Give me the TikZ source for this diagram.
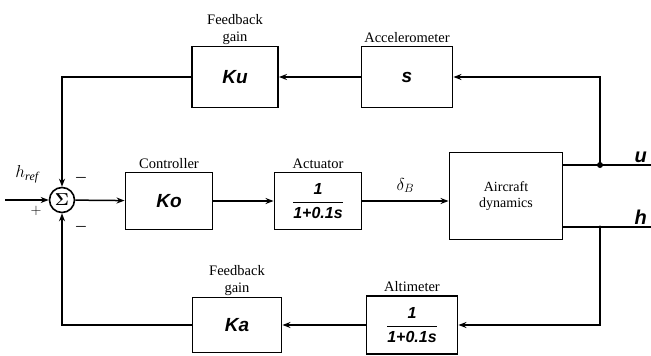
\documentclass[tikz,border=0pt]{standalone}
\usepackage{amsmath}
\usepackage{fontspec}
\setmainfont{Liberation Serif}
\newfontfamily\blkfont{Liberation Sans}
\usetikzlibrary{arrows.meta,positioning}

\begin{document}
\begin{tikzpicture}[
  x=1pt,y=-1pt,>={Stealth[length=8pt,width=6pt]},
  blk/.style={draw,line width=1.9pt,minimum width=87pt,minimum height=57pt,inner sep=2pt,
    font=\blkfont\bfseries\itshape\fontsize{19}{21}\selectfont},
  tf/.style={blk,font=\blkfont\bfseries\itshape\fontsize{16}{18}\selectfont},
  lbl/.style={font=\fontsize{14.5}{17}\selectfont,align=center,inner sep=1pt},
  sgn/.style={font=\fontsize{15}{15}\selectfont,inner sep=0pt},
  outl/.style={font=\blkfont\bfseries\itshape\fontsize{20}{20}\selectfont,inner sep=1pt},
  ar/.style={->,line width=1.5pt},
  wire/.style={line width=1.5pt}
]
\useasboundingbox (0,0) rectangle (651,356);

% ---- forward path ----
\node[circle,draw,line width=1.6pt,minimum size=25pt,inner sep=0pt,font=\fontsize{16}{16}\selectfont] (sum) at (62,200) {$\boldsymbol{\Sigma}$};
\node[blk] (ctrl) at (169,201) {Ko};
\node[tf] (act) at (318,201) {$\dfrac{\text{1}}{\text{1+0.1s}}$};
\node[draw,line width=1.9pt,minimum width=113pt,minimum height=87pt,lbl,font=\fontsize{14}{16}\selectfont] (plant) at (506,196) {Aircraft\\dynamics};

% ---- feedback blocks ----
\node[blk,minimum width=91pt,minimum height=61pt] (acc) at (407,77) {s};
\node[blk,minimum width=86pt,minimum height=61pt] (kfu) at (235,77) {Ku};
\node[tf,minimum width=91pt,minimum height=58pt] (alt) at (412,325) {$\dfrac{\text{1}}{\text{1+0.1s}}$};
\node[blk,minimum width=89pt,minimum height=55pt] (kfa) at (237,325) {Ka};

% labels
\node[lbl,above=2pt of ctrl] (ctrllbl) {Controller};
\node[lbl,above=2pt of act] (actlbl) {Actuator};
\node[lbl,above=2pt of acc] (acclbl) {Accelerometer};
\node[lbl,above=0pt of kfu] (kfulbl) {Feedback\\gain};
\node[lbl,above=0pt of kfa] (kfalbl) {Feedback\\gain};
\node[lbl,above=2pt of alt] (altlbl) {Altimeter};

% outputs
\coordinate (inp) at (5,200);
\coordinate (uj) at (600,165);
\coordinate (hj) at (600,227);
\coordinate (uout) at (651,165);
\coordinate (hout) at (651,227);
\node[outl,above left=1pt and 3pt of uout] (ulbl) {u};
\node[outl,above left=1pt and 3pt of hout] (hlbl) {h};

% signs
\node[font=\fontsize{17}{17}\selectfont] (href) at (27,174) {$h_{\mathit{ref}}$};
\node[sgn] (plus) at (36,211) {$+$};
\node[sgn] (mtop) at (81,178) {$\boldsymbol{-}$};
\node[sgn] (mbot) at (81,227) {$\boldsymbol{-}$};

% wires
\draw[ar] (inp) -- (sum);
\draw[ar] (sum) -- (ctrl);
\draw[ar] (ctrl) -- (act);
\draw[ar] (act.east) -- (act.east -| plant.west) node[midway,above=4pt,font=\fontsize{17}{17}\selectfont] (dlbl) {$\delta_B$};
\draw[wire] (plant.east |- uj) -- (uout);
\draw[wire] (plant.east |- hj) -- (hout);
\fill (uj) circle (3pt);
\fill (hj) circle (1.6pt);
\draw[ar] (uj) |- (acc.east);
\draw[ar] (acc) -- (kfu);
\draw[ar] (kfu.west) -| (sum.north);
\draw[ar] (hj) |- (alt.east);
\draw[ar] (alt) -- (kfa);
\draw[ar] (kfa.west) -| (sum.south);
\end{tikzpicture}
\end{document}
